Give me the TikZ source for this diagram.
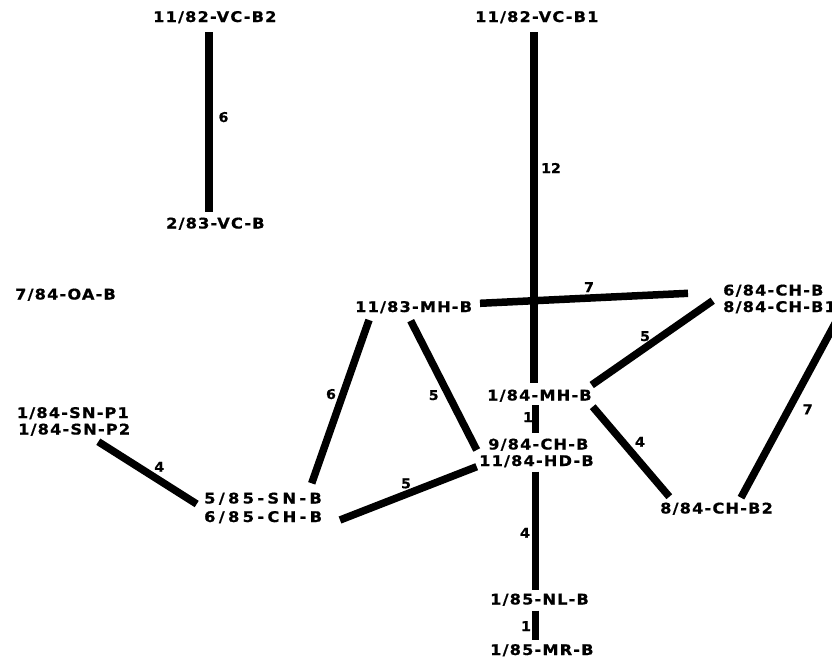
\documentclass[tikz,border=0pt]{standalone}
\usepackage{fontspec}
\newfontfamily\diagfont[FakeStretch=1.1,LetterSpace=8,FakeBold=0.7]{DejaVu Sans Bold}
\newfontfamily\diagwide[FakeStretch=1.1,LetterSpace=23,FakeBold=0.7]{DejaVu Sans Bold}
\newfontfamily\weightfont[FakeStretch=1.05,FakeBold=0.7]{DejaVu Sans Bold}
\usetikzlibrary{calc}
\begin{document}
\begin{tikzpicture}[x=1pt,y=-1pt,
  vtx/.style={anchor=base west,inner sep=0pt,font=\diagfont\fontsize{14.7}{16}\selectfont},
  vtxwide/.style={vtx,font=\diagwide\fontsize{14.7}{16}\selectfont},
  wt/.style={anchor=base,inner sep=0pt,font=\weightfont\fontsize{13.5}{16}\selectfont},
  edge/.style={line width=7.5pt,line cap=butt}]
\useasboundingbox (0,0) rectangle (832,657);
\clip (0,0) rectangle (832,657);

% vertices: date / site / object
\node[vtx] (vcb2)  at (153,22)    {11/82-VC-B2};
\node[vtx] (vcb)   at (166,228.5) {2/83-VC-B};
\node[vtx] (vcb1)  at (475,22)    {11/82-VC-B1};
\node[vtx] (oab)   at (15,299.5)  {7/84-OA-B};
\node[vtx] (mhb83) at (355,312)   {11/83-MH-B};
\node[vtx] (chb6)  at (723,295.5) {6/84-CH-B};
\node[vtx] (chb8)  at (723,312)   {8/84-CH-B1};
\node[vtx] (mhb84) at (487,400.5) {1/84-MH-B};
\node[vtx] (chb9)  at (488,449.5) {9/84-CH-B};
\node[vtx] (hdb)   at (479,466)   {11/84-HD-B};
\node[vtx] (chb2)  at (660,513.5) {8/84-CH-B2};
\node[vtx] (snp1)  at (16.7,418)  {1/84-SN-P1};
\node[vtx] (snp2)  at (18,434.5)  {1/84-SN-P2};
\node[vtxwide] (snb)   at (204,503.5) {5/85-SN-B};
\node[vtxwide] (chb85) at (204,522)   {6/85-CH-B};
\node[vtx] (nlb)   at (490,604.5) {1/85-NL-B};
\node[vtx] (mrb)   at (490,655)   {1/85-MR-B};

% connectors
\draw[edge] ([shift={(56,10)}]vcb2.base west)   -- ([shift={(43,-16.5)}]vcb.base west);
\draw[edge] ([shift={(59,10)}]vcb1.base west)   -- ([shift={(47,-17.5)}]mhb84.base west);
\draw[edge] ([shift={(125,-8.7)}]mhb83.base west) -- ([shift={(-35,-2.2)}]chb6.base west);
\draw[edge] ([shift={(104.7,-15.5)}]mhb84.base west) -- ([shift={(-10.3,-11.3)}]chb8.base west);
\draw[edge] ([shift={(48.5,4.5)}]mhb84.base west) -- ([shift={(47.5,-16.5)}]chb9.base west);
\draw[edge] ([shift={(105.7,6.2)}]mhb84.base west) -- ([shift={(9.3,-16.8)}]chb2.base west);
\draw[edge] ([shift={(81,-15.8)}]chb2.base west) -- ([shift={(115,6)}]chb8.base west);
\draw[edge] ([shift={(55.7,8.7)}]mhb83.base west) -- ([shift={(-2.3,-16)}]hdb.base west);
\draw[edge] ([shift={(14,8)}]mhb83.base west) -- ([shift={(107.7,-20.2)}]snb.base west);
\draw[edge] ([shift={(136,-2)}]chb85.base west) -- ([shift={(-2.3,0.7)}]hdb.base west);
\draw[edge] ([shift={(80.3,7.2)}]snp2.base west) -- ([shift={(-7.3,0.5)}]snb.base west);
\draw[edge] ([shift={(56.3,5.7)}]hdb.base west) -- ([shift={(45.3,-14.5)}]nlb.base west);
\draw[edge] ([shift={(45.3,6.2)}]nlb.base west) -- ([shift={(45.3,-15)}]mrb.base west);

% connector weights
\node[wt] (w1)  at (223.5,122)   {6};
\node[wt] (w2)  at (551,173)   {12};
\node[wt] (w3)  at (589,292)   {7};
\node[wt] (w4)  at (645,341)   {5};
\node[wt] (w5)  at (528,422) {1};
\node[wt] (w6)  at (640,446.7) {4};
\node[wt] (w7)  at (807.7,414.3) {7};
\node[wt] (w8)  at (433.7,400) {5};
\node[wt] (w9)  at (331,399)   {6};
\node[wt] (w10) at (406,488.3) {5};
\node[wt] (w11) at (159.3,471.7) {4};
\node[wt] (w12) at (525,537.7) {4};
\node[wt] (w13) at (526,631)   {1};
\end{tikzpicture}
\end{document}
